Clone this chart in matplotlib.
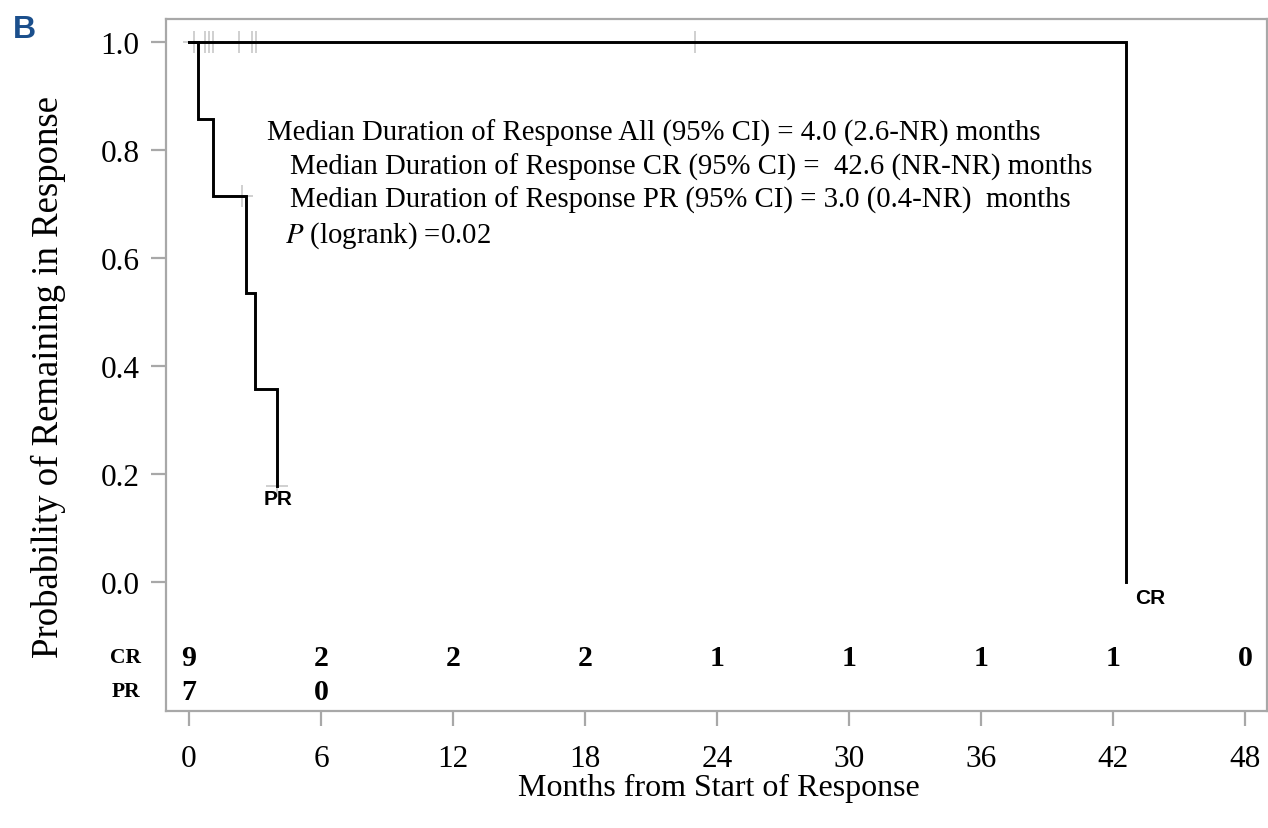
import numpy as np
import matplotlib
matplotlib.use("Agg")
import matplotlib.pyplot as plt

# Duration of response (months) and event flags (1 = progression, 0 = censored)
cr_times = [0.23, 0.73, 0.91, 1.09, 2.27, 2.86, 3.05, 23.0, 42.6]
cr_events = [0, 0, 0, 0, 0, 0, 0, 0, 1]
pr_times = [0.4, 1.1, 2.4, 2.6, 3.0, 4.0, 4.0]
pr_events = [1, 1, 0, 1, 1, 1, 0]

# Number at risk table
risk_times = [0, 6, 12, 18, 24, 30, 36, 42, 48]
cr_at_risk = [9, 2, 2, 2, 1, 1, 1, 1, 0]
pr_at_risk = [7, 0]

x_ticks = [0, 6, 12, 18, 24, 30, 36, 42, 48]
y_ticks = [0.0, 0.2, 0.4, 0.6, 0.8, 1.0]

annotation_lines = [
    "Median Duration of Response All (95% CI) = 4.0 (2.6-NR) months",
    "Median Duration of Response CR (95% CI) =  42.6 (NR-NR) months",
    "Median Duration of Response PR (95% CI) = 3.0 (0.4-NR)  months",
]

SERIF = "Liberation Serif"
SANS = "Liberation Sans"
GRAY = "#a8a8a8"


def kaplan_meier(times, events):
    t = np.asarray(times, float)
    e = np.asarray(events, int)
    order = np.lexsort((-e, t))
    t, e = t[order], e[order]
    xs, ys = [0.0], [1.0]
    s = 1.0
    cens_x, cens_y = [], []
    for ut in np.unique(t):
        at_risk = np.sum(t >= ut)
        d = np.sum((t == ut) & (e == 1))
        c = np.sum((t == ut) & (e == 0))
        if d > 0:
            xs += [ut, ut]
            ys += [s, s * (1 - d / at_risk)]
            s = s * (1 - d / at_risk)
        if c > 0:
            cens_x += [ut] * c
            cens_y += [s] * c
    last = t.max()
    if xs[-1] < last:
        xs.append(last)
        ys.append(s)
    return np.array(xs), np.array(ys), np.array(cens_x), np.array(cens_y)


W, H = 1268, 829
fig = plt.figure(figsize=(W / 100, H / 100), dpi=100)
left, right, top, bottom = 166, 1267, 20, 712
ax = fig.add_axes([left / W, (H - bottom) / H, (right - left) / W, (bottom - top) / H])

x0px, xscale = 189.0, 22.0
y0px, yscale = 583.0, 540.0
ax.set_xlim((left - x0px) / xscale, (right - x0px) / xscale)
ax.set_ylim((y0px - bottom) / yscale, (y0px - top) / yscale)

for times, events in [(cr_times, cr_events), (pr_times, pr_events)]:
    xs, ys, cx, cy = kaplan_meier(times, events)
    ax.scatter(cx, cy, marker="+", s=16 ** 2, color="#c4c4c4", linewidths=1.1, zorder=2)
    ax.plot(xs, ys, color="black", lw=2.1, zorder=3, solid_joinstyle="miter")

ax.text(43.0, -0.028, "CR", family=SANS, fontweight="bold", fontsize=15, ha="left", va="center")
ax.text(3.4, 0.155, "PR", family=SANS, fontweight="bold", fontsize=15, ha="left", va="center")

ax.text(3.55, 0.833, annotation_lines[0], family=SERIF, fontsize=20.7, ha="left", va="center")
ax.text(4.59, 0.770, annotation_lines[1], family=SERIF, fontsize=20.7, ha="left", va="center")
ax.text(4.59, 0.709, annotation_lines[2], family=SERIF, fontsize=20.7, ha="left", va="center")
ax.text(4.36, 0.644, r"$\it{P}$ (logrank) =0.02", family=SERIF, fontsize=20.7, ha="left", va="center",
        math_fontfamily="stix")

# Number at risk rows
row_cr, row_pr = -0.139, -0.202
for t, n in zip(risk_times, cr_at_risk):
    ax.text(t, row_cr, str(n), family=SERIF, fontweight="bold", fontsize=21.5, ha="center", va="center")
for t, n in zip(risk_times, pr_at_risk):
    ax.text(t, row_pr, str(n), family=SERIF, fontweight="bold", fontsize=21.5, ha="center", va="center")
ax.text(-2.2, row_cr, "CR", family=SERIF, fontweight="bold", fontsize=15.5, ha="right", va="center", clip_on=False)
ax.text(-2.2, row_pr, "PR", family=SERIF, fontweight="bold", fontsize=15.5, ha="right", va="center", clip_on=False)

ax.set_xticks(x_ticks)
ax.set_yticks(y_ticks)
ax.set_yticklabels([f"{v:.1f}" for v in y_ticks])
for lab in ax.get_xticklabels() + ax.get_yticklabels():
    lab.set_family(SERIF)
    lab.set_fontsize(22.5)
ax.tick_params(axis="both", direction="out", length=11, width=1.6, color=GRAY)
ax.tick_params(axis="x", pad=13)
ax.tick_params(axis="y", pad=8)

for sp in ax.spines.values():
    sp.set_color(GRAY)
    sp.set_linewidth(1.6)

ax.set_xlabel("Months from Start of Response", family=SERIF, fontsize=23)
ax.xaxis.label.set_va("center")
ax.xaxis.set_label_coords((719 - left) / (right - left), (bottom - 788) / (bottom - top))
ax.set_ylabel("Probability of Remaining in Response", family=SERIF, fontsize=26.5)
ax.yaxis.label.set_va("center")
ax.yaxis.set_label_coords((48 - left) / (right - left), (bottom - 377) / (bottom - top))

fig.text(13 / W, 1 - 30 / H, "B", family=SANS, fontweight="bold", fontsize=23, color="#1b4f8c",
         ha="left", va="center")

fig.savefig("out.png", dpi=100)
